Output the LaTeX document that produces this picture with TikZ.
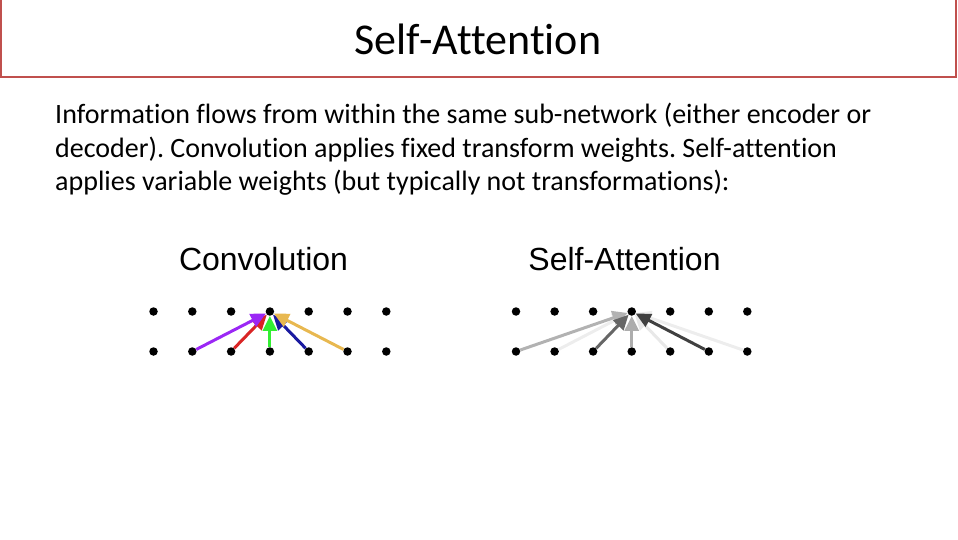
\documentclass[tikz,border=0pt]{standalone}
\usepackage{fontspec}
\setmainfont{Carlito}[Ligatures=NoCommon]
\newfontfamily\headfont{Liberation Sans}
\usetikzlibrary{arrows.meta}
\definecolor{slideborder}{HTML}{C0504D}
\definecolor{wpurple}{HTML}{9B27F5}
\definecolor{wred}{HTML}{D92525}
\definecolor{wgreen}{HTML}{33EE33}
\definecolor{wblue}{HTML}{1A1AA0}
\definecolor{wgold}{HTML}{E8B850}
\frenchspacing
\begin{document}
\begin{tikzpicture}[x=1pt,y=-1pt,
  dot/.style={circle,fill=black,inner sep=0pt,minimum size=8.5pt},
  weight/.style={line width=3pt,-{Triangle[length=15pt,width=14pt]}},
  heading/.style={font=\headfont\fontsize{32}{38}\selectfont,anchor=base},
  bodyline/.style={font=\fontsize{28}{33.5}\selectfont,anchor=base west,inner sep=0pt}]
\useasboundingbox (0,0) rectangle (958,540);
% Title bar
\draw[slideborder,line width=2.6pt] (1,-5) rectangle (956,77);
\node[font=\fontsize{44}{53}\selectfont,anchor=base] (title) at (478,55) {Self-Attention};

% Text
\node[bodyline] (line1) at (55,124) {Information flows from within the same sub-network (either encoder or};
\node[bodyline] (line2) at (55,157.5) {decoder). Convolution applies fixed transform weights. Self-attention};
\node[bodyline] (line3) at (55,191) {applies variable weights (but typically not transformations):};

% Headings
\node[heading] (convhead) at (263.5,270) {Convolution};
\node[heading] (attnhead) at (624.5,270) {Self-Attention};

% Convolution dots
\path (153.5,311.5) node[dot] (ct1) {} (192.3,311.5) node[dot] (ct2) {}
      (231.1,311.5) node[dot] (ct3) {} (269.9,311.5) node[dot] (ct4) {}
      (308.7,311.5) node[dot] (ct5) {} (347.5,311.5) node[dot] (ct6) {}
      (386.3,311.5) node[dot] (ct7) {};
\path (153.5,351.5) node[dot] (cb1) {} (192.3,351.5) node[dot] (cb2) {}
      (231.1,351.5) node[dot] (cb3) {} (269.9,351.5) node[dot] (cb4) {}
      (308.7,351.5) node[dot] (cb5) {} (347.5,351.5) node[dot] (cb6) {}
      (386.3,351.5) node[dot] (cb7) {};

% Fixed weights
\draw[weight,wblue] (cb5) -- (ct4);
\draw[weight,wred] (cb3) -- (ct4);
\draw[weight,wgold] (cb6) -- (ct4);
\draw[weight,wpurple] (cb2) -- (ct4);
\draw[weight,wgreen] (cb4) -- (ct4);

% Self-attention dots
\path (516,311.5) node[dot] (at1) {} (554.6,311.5) node[dot] (at2) {}
      (593.1,311.5) node[dot] (at3) {} (631.7,311.5) node[dot] (at4) {}
      (670.2,311.5) node[dot] (at5) {} (708.8,311.5) node[dot] (at6) {}
      (747.3,311.5) node[dot] (at7) {};
\path (516,351.5) node[dot] (ab1) {} (554.6,351.5) node[dot] (ab2) {}
      (593.1,351.5) node[dot] (ab3) {} (631.7,351.5) node[dot] (ab4) {}
      (670.2,351.5) node[dot] (ab5) {} (708.8,351.5) node[dot] (ab6) {}
      (747.3,351.5) node[dot] (ab7) {};

% Variable weights
\draw[weight,black!7] (ab7) -- (at4);
\draw[weight,black!9] (ab5) -- (at4);
\draw[weight,black!7] (ab2) -- (at4);
\draw[weight,black!30] (ab1) -- (at4);
\draw[weight,black!75] (ab6) -- (at4);
\draw[weight,black!60] (ab3) -- (at4);
\draw[weight,black!32] (ab4) -- (at4);
\end{tikzpicture}
\end{document}
